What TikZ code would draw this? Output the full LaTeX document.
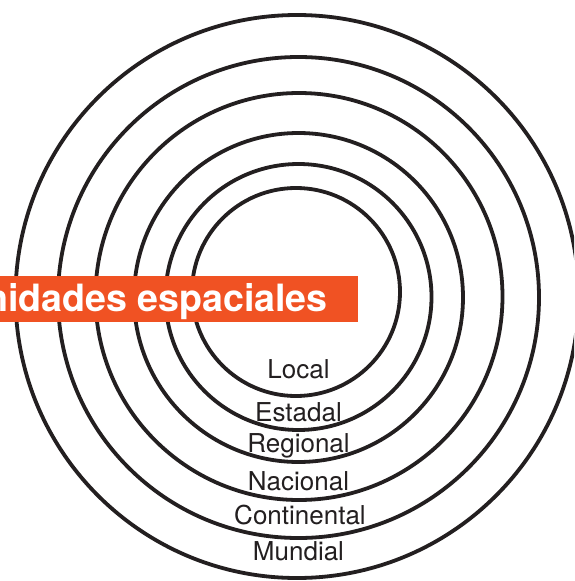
\documentclass[tikz,border=0pt]{standalone}
\usepackage{fontspec}
\setmainfont{TeX Gyre Heros}
\definecolor{ink}{HTML}{231F20}
\definecolor{orangebar}{RGB}{240,82,35}
\begin{document}
\begin{tikzpicture}[x=1pt,y=-1pt,
  ring/.style={circle,draw=ink,line width=3.8pt,inner sep=0pt},
  lbl/.style={text=ink,font=\fontsize{26}{30}\selectfont,anchor=base,inner sep=0pt},
  barbox/.style={fill=orangebar,draw=none,anchor=north west,inner sep=0pt,minimum width=378pt,minimum height=46pt},
  titletext/.style={text=white,font=\bfseries\fontsize{37.6}{44}\selectfont,anchor=base east,inner sep=0pt}]
\useasboundingbox (0,0) rectangle (574,581);
\clip (0,0) rectangle (574,581);
\fill[white] (0,0) rectangle (574,581);
% rings
\node[ring,minimum size=563pt] (mundial) at (297,296.5) {};
\node[ring,minimum size=481pt] (continental) at (298.5,297.5) {};
\node[ring,minimum size=407pt] (nacional) at (299,296.5) {};
\node[ring,minimum size=329pt] (regional) at (298.5,297.5) {};
\node[ring,minimum size=266pt] (estadal) at (298.5,297) {};
\node[ring,minimum size=208pt] (local) at (296,292) {};
% title bar
\node[barbox] (bar) at (-20,276) {};
\node[titletext] (title) at (328,311) {Unidades espaciales};
% labels
\node[lbl] (tlocal) at (298.5,378) {Local};
\node[lbl] (testadal) at (298.5,421) {Estadal};
\node[lbl] (tregional) at (298.5,452) {Regional};
\node[lbl] (tnacional) at (298.5,490) {Nacional};
\node[lbl] (tcontinental) at (300,524) {Continental};
\node[lbl] (tmundial) at (298.5,560) {Mundial};
\end{tikzpicture}
\end{document}
